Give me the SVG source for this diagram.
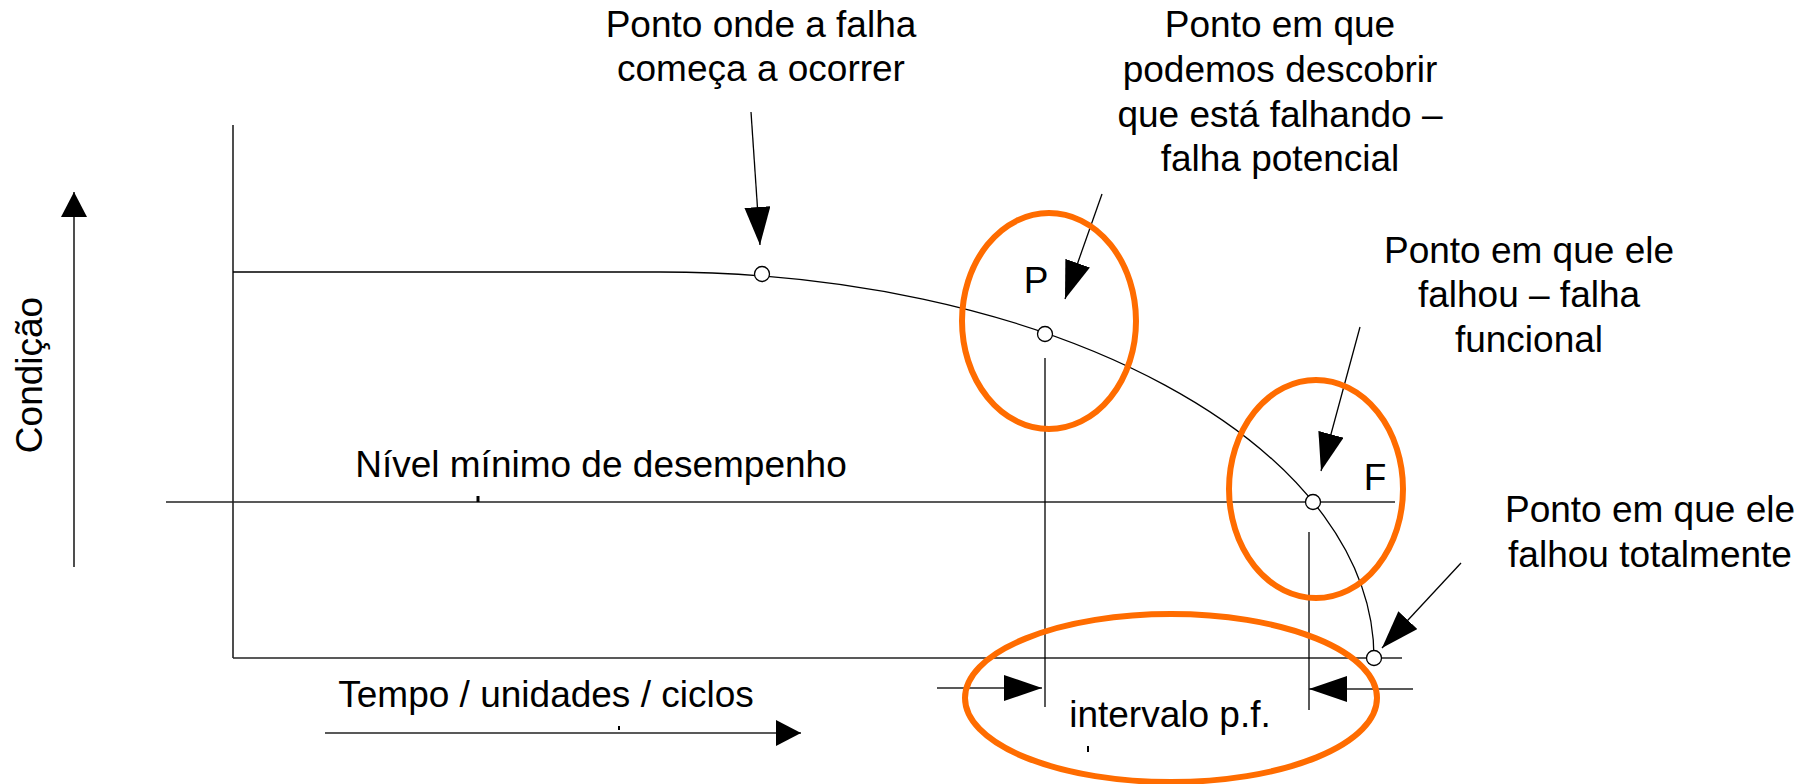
<svg xmlns="http://www.w3.org/2000/svg" width="1816" height="784" viewBox="0 0 1816 784">
<defs>
<style>
.t{font-family:"Liberation Sans",Arial,sans-serif;font-size:37px;fill:#000;text-anchor:middle}
.ln{stroke:#000;stroke-width:1.3;fill:none}
.ax{stroke:#222;stroke-width:1.6;fill:none}
.ring{fill:none;stroke:#FF6C00;stroke-width:6}
.dot{fill:#fff;stroke:#000;stroke-width:1.3}
</style>
<marker id="big" viewBox="0 0 38 26" markerWidth="38" markerHeight="26" refX="38" refY="13" orient="auto" markerUnits="userSpaceOnUse">
<path d="M0,0 L38,13 L0,26 z" fill="#000"/>
</marker>
<marker id="small" viewBox="0 0 25 26" markerWidth="25" markerHeight="26" refX="25" refY="13" orient="auto" markerUnits="userSpaceOnUse">
<path d="M0,0 L25,13 L0,26 z" fill="#000"/>
</marker>
</defs>
<rect width="1816" height="784" fill="#fff"/>

<g id="axes">
<line class="ax" x1="233" y1="125" x2="233" y2="658"/>
<line class="ax" x1="233" y1="658" x2="1402" y2="658"/>
<line class="ax" x1="166" y1="502" x2="1395" y2="502"/>
<line stroke="#000" stroke-width="3" x1="478" y1="496" x2="478" y2="502"/>
</g>

<g id="curve">
<path class="ln" d="M233,272 L660,272 A714,386 0 0 1 1374,658"/>
</g>

<g id="markers-lines">
<line class="ln" x1="1045" y1="358" x2="1045" y2="707"/>
<line class="ln" x1="1309" y1="532" x2="1309" y2="710"/>
</g>

<g id="connectors">
<line class="ax" x1="74" y1="567" x2="74" y2="192" marker-end="url(#small)"/>
<line class="ax" x1="325" y1="733" x2="801" y2="733" marker-end="url(#small)"/>
<line stroke="#000" stroke-width="2" x1="619" y1="726" x2="619" y2="730"/>
<line class="ln" x1="751" y1="112" x2="760" y2="245" marker-end="url(#big)"/>
<line class="ln" x1="1102" y1="194" x2="1065" y2="299" marker-end="url(#big)"/>
<line class="ln" x1="1360" y1="327" x2="1321" y2="471" marker-end="url(#big)"/>
<line class="ln" x1="1461" y1="563" x2="1382" y2="648" marker-end="url(#big)"/>
<line class="ax" x1="937" y1="688" x2="1042" y2="688" marker-end="url(#big)"/>
<line class="ax" x1="1413" y1="689" x2="1309" y2="689" marker-end="url(#big)"/>
<line stroke="#000" stroke-width="2" x1="1088" y1="746" x2="1088" y2="752"/>
</g>

<g id="point-start"><circle class="dot" cx="762" cy="274" r="7.5"/></g>
<g id="point-P"><circle class="dot" cx="1045" cy="334" r="7.5"/></g>
<g id="point-F"><circle class="dot" cx="1313" cy="502" r="7.5"/></g>
<g id="point-end"><circle class="dot" cx="1374" cy="658" r="7.5"/></g>

<g id="ring-P"><ellipse class="ring" cx="1049" cy="321" rx="87" ry="108"/></g>
<g id="ring-F"><ellipse class="ring" cx="1316" cy="489" rx="87" ry="109"/></g>
<g id="ring-pf"><ellipse class="ring" cx="1171" cy="698" rx="206" ry="84"/></g>

<g id="label-start">
<text class="t" x="761" y="37">Ponto onde a falha</text>
<text class="t" x="761" y="81">começa a ocorrer</text>
</g>
<g id="label-potential">
<text class="t" x="1280" y="37">Ponto em que</text>
<text class="t" x="1280" y="82">podemos descobrir</text>
<text class="t" x="1280" y="127">que está falhando –</text>
<text class="t" x="1280" y="171">falha potencial</text>
</g>
<g id="label-functional">
<text class="t" x="1529" y="263">Ponto em que ele</text>
<text class="t" x="1529" y="307">falhou – falha</text>
<text class="t" x="1529" y="352">funcional</text>
</g>
<g id="label-total">
<text class="t" x="1650" y="522">Ponto em que ele</text>
<text class="t" x="1650" y="567">falhou totalmente</text>
</g>
<g id="label-P"><text class="t" x="1036" y="293">P</text></g>
<g id="label-F"><text class="t" x="1375" y="490">F</text></g>
<g id="label-min"><text class="t" x="601" y="477">Nível mínimo de desempenho</text></g>
<g id="label-time"><text class="t" x="546" y="707">Tempo / unidades / ciclos</text></g>
<g id="label-pf"><text class="t" x="1170" y="727">intervalo p.f.</text></g>
<g id="label-cond"><text class="t" transform="translate(42,375) rotate(-90)" x="0" y="0">Condição</text></g>
</svg>
